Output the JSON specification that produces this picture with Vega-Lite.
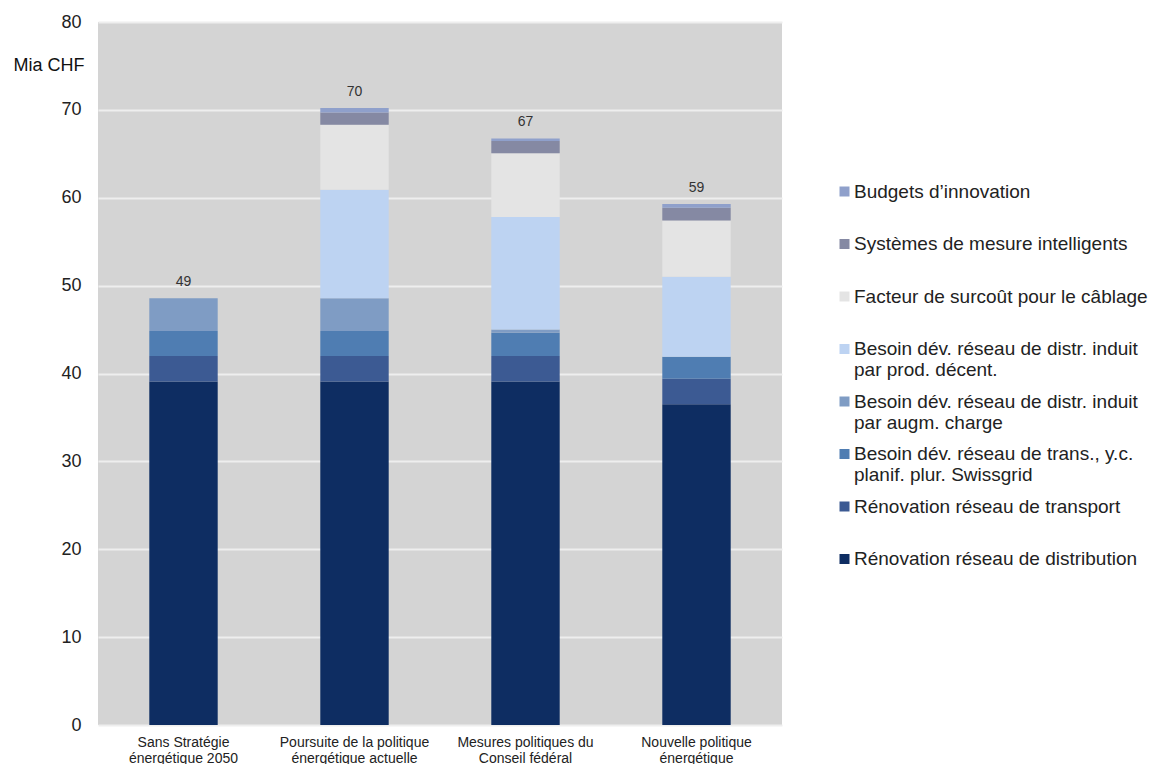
{
  "$schema": "https://vega.github.io/schema/vega-lite/v6.json",
  "width": 684,
  "height": 703,
  "autosize": "none",
  "padding": {"left": 98, "top": 22, "right": 369, "bottom": 39},
  "background": "white",
  "config": {
    "font": "Liberation Sans",
    "view": {"fill": "#d4d4d4", "stroke": null}
  },
  "data": {
    "values": [
      {"scenario": "Sans Stratégie énergétique 2050", "poste": "Rénovation réseau de distribution", "rang": 1, "mia": 39.1},
      {"scenario": "Sans Stratégie énergétique 2050", "poste": "Rénovation réseau de transport", "rang": 2, "mia": 2.9},
      {"scenario": "Sans Stratégie énergétique 2050", "poste": "Besoin dév. réseau de trans., y.c. planif. plur. Swissgrid", "rang": 3, "mia": 2.85},
      {"scenario": "Sans Stratégie énergétique 2050", "poste": "Besoin dév. réseau de distr. induit par augm. charge", "rang": 4, "mia": 3.7},
      {"scenario": "Poursuite de la politique énergétique actuelle", "poste": "Rénovation réseau de distribution", "rang": 1, "mia": 39.1},
      {"scenario": "Poursuite de la politique énergétique actuelle", "poste": "Rénovation réseau de transport", "rang": 2, "mia": 2.9},
      {"scenario": "Poursuite de la politique énergétique actuelle", "poste": "Besoin dév. réseau de trans., y.c. planif. plur. Swissgrid", "rang": 3, "mia": 2.85},
      {"scenario": "Poursuite de la politique énergétique actuelle", "poste": "Besoin dév. réseau de distr. induit par augm. charge", "rang": 4, "mia": 3.7},
      {"scenario": "Poursuite de la politique énergétique actuelle", "poste": "Besoin dév. réseau de distr. induit par prod. décent.", "rang": 5, "mia": 12.35},
      {"scenario": "Poursuite de la politique énergétique actuelle", "poste": "Facteur de surcoût pour le câblage", "rang": 6, "mia": 7.4},
      {"scenario": "Poursuite de la politique énergétique actuelle", "poste": "Systèmes de mesure intelligents", "rang": 7, "mia": 1.4},
      {"scenario": "Poursuite de la politique énergétique actuelle", "poste": "Budgets d’innovation", "rang": 8, "mia": 0.5},
      {"scenario": "Mesures politiques du Conseil fédéral", "poste": "Rénovation réseau de distribution", "rang": 1, "mia": 39.1},
      {"scenario": "Mesures politiques du Conseil fédéral", "poste": "Rénovation réseau de transport", "rang": 2, "mia": 2.9},
      {"scenario": "Mesures politiques du Conseil fédéral", "poste": "Besoin dév. réseau de trans., y.c. planif. plur. Swissgrid", "rang": 3, "mia": 2.65},
      {"scenario": "Mesures politiques du Conseil fédéral", "poste": "Besoin dév. réseau de distr. induit par augm. charge", "rang": 4, "mia": 0.35},
      {"scenario": "Mesures politiques du Conseil fédéral", "poste": "Besoin dév. réseau de distr. induit par prod. décent.", "rang": 5, "mia": 12.8},
      {"scenario": "Mesures politiques du Conseil fédéral", "poste": "Facteur de surcoût pour le câblage", "rang": 6, "mia": 7.25},
      {"scenario": "Mesures politiques du Conseil fédéral", "poste": "Systèmes de mesure intelligents", "rang": 7, "mia": 1.4},
      {"scenario": "Mesures politiques du Conseil fédéral", "poste": "Budgets d’innovation", "rang": 8, "mia": 0.3},
      {"scenario": "Nouvelle politique énergétique", "poste": "Rénovation réseau de distribution", "rang": 1, "mia": 36.5},
      {"scenario": "Nouvelle politique énergétique", "poste": "Rénovation réseau de transport", "rang": 2, "mia": 2.9},
      {"scenario": "Nouvelle politique énergétique", "poste": "Besoin dév. réseau de trans., y.c. planif. plur. Swissgrid", "rang": 3, "mia": 2.5},
      {"scenario": "Nouvelle politique énergétique", "poste": "Besoin dév. réseau de distr. induit par augm. charge", "rang": 4, "mia": 0},
      {"scenario": "Nouvelle politique énergétique", "poste": "Besoin dév. réseau de distr. induit par prod. décent.", "rang": 5, "mia": 9.1},
      {"scenario": "Nouvelle politique énergétique", "poste": "Facteur de surcoût pour le câblage", "rang": 6, "mia": 6.4},
      {"scenario": "Nouvelle politique énergétique", "poste": "Systèmes de mesure intelligents", "rang": 7, "mia": 1.45},
      {"scenario": "Nouvelle politique énergétique", "poste": "Budgets d’innovation", "rang": 8, "mia": 0.45}
    ]
  },
  "encoding": {
    "x": {
      "field": "scenario",
      "type": "nominal",
      "sort": null,
      "scale": {"paddingInner": 0.6, "paddingOuter": 0.3},
      "axis": {
        "title": null,
        "labelAngle": 0,
        "domain": false,
        "ticks": false,
        "labelFontSize": 14,
        "labelColor": "#222222",
        "labelPadding": 10,
        "labelLineHeight": 16,
        "labelExpr": "{'Sans Stratégie énergétique 2050': ['Sans Stratégie', 'énergétique 2050'], 'Poursuite de la politique énergétique actuelle': ['Poursuite de la politique', 'énergétique actuelle'], 'Mesures politiques du Conseil fédéral': ['Mesures politiques du', 'Conseil fédéral'], 'Nouvelle politique énergétique': ['Nouvelle politique', 'énergétique']}[datum.label]"
      }
    }
  },
  "layer": [
    {
      "mark": {"type": "bar"},
      "encoding": {
        "y": {
          "field": "mia",
          "type": "quantitative",
          "stack": "zero",
          "scale": {"domain": [0, 80], "nice": false},
          "axis": {
            "title": "Mia CHF",
            "titleAngle": 0,
            "titleAlign": "right",
            "titleBaseline": "middle",
            "titleX": -14,
            "titleY": 43,
            "titleFontSize": 18,
            "titleFontWeight": "normal",
            "titleColor": "#111111",
            "values": [0, 10, 20, 30, 40, 50, 60, 70, 80],
            "labelOverlap": false,
            "domain": false,
            "ticks": false,
            "labelFontSize": 18,
            "labelColor": "#222222",
            "labelPadding": 17,
            "gridColor": "#eeeeee",
            "gridWidth": 2
          }
        },
        "order": {"field": "rang", "type": "quantitative"},
        "color": {
          "field": "poste",
          "type": "nominal",
          "scale": {
            "domain": [
              "Rénovation réseau de distribution",
              "Rénovation réseau de transport",
              "Besoin dév. réseau de trans., y.c. planif. plur. Swissgrid",
              "Besoin dév. réseau de distr. induit par augm. charge",
              "Besoin dév. réseau de distr. induit par prod. décent.",
              "Facteur de surcoût pour le câblage",
              "Systèmes de mesure intelligents",
              "Budgets d’innovation"
            ],
            "range": ["#0e2d62", "#3c5a93", "#4f7db2", "#7f9cc4", "#bdd3f2", "#e4e4e4", "#8589a3", "#8fa0cb"]
          },
          "legend": {
            "title": null,
            "orient": "none",
            "legendX": 737,
            "legendY": 160,
            "padding": 0,
            "direction": "vertical",
            "gridAlign": "all",
            "symbolType": "square",
            "symbolSize": 100,
            "symbolStrokeWidth": 0,
            "labelFontSize": 19,
            "labelColor": "#222222",
            "labelLimit": 400,
            "labelOffset": 0,
            "rowPadding": 11.5,
            "labelLineHeight": 22,
            "values": [
              "Budgets d’innovation",
              "Systèmes de mesure intelligents",
              "Facteur de surcoût pour le câblage",
              "Besoin dév. réseau de distr. induit par prod. décent.",
              "Besoin dév. réseau de distr. induit par augm. charge",
              "Besoin dév. réseau de trans., y.c. planif. plur. Swissgrid",
              "Rénovation réseau de transport",
              "Rénovation réseau de distribution"
            ],
            "labelExpr": "datum.label == 'Besoin dév. réseau de distr. induit par prod. décent.' ? ['Besoin dév. réseau de distr. induit', 'par prod. décent.'] : datum.label == 'Besoin dév. réseau de distr. induit par augm. charge' ? ['Besoin dév. réseau de distr. induit', 'par augm. charge'] : datum.label == 'Besoin dév. réseau de trans., y.c. planif. plur. Swissgrid' ? ['Besoin dév. réseau de trans., y.c.', 'planif. plur. Swissgrid'] : datum.label"
          }
        }
      }
    },
    {
      "mark": {"type": "text", "baseline": "bottom", "dy": -9, "fontSize": 14, "color": "#333333"},
      "encoding": {
        "y": {
          "field": "mia",
          "type": "quantitative",
          "aggregate": "sum",
          "axis": {
            "title": "Mia CHF",
            "titleAngle": 0,
            "titleAlign": "right",
            "titleBaseline": "middle",
            "titleX": -14,
            "titleY": 43,
            "titleFontSize": 18,
            "titleFontWeight": "normal",
            "titleColor": "#111111",
            "values": [0, 10, 20, 30, 40, 50, 60, 70, 80],
            "labelOverlap": false,
            "domain": false,
            "ticks": false,
            "labelFontSize": 18,
            "labelColor": "#222222",
            "labelPadding": 17,
            "gridColor": "#eeeeee",
            "gridWidth": 2
          }
        },
        "text": {"field": "mia", "type": "quantitative", "aggregate": "sum", "format": ".0f"}
      }
    }
  ]
}
